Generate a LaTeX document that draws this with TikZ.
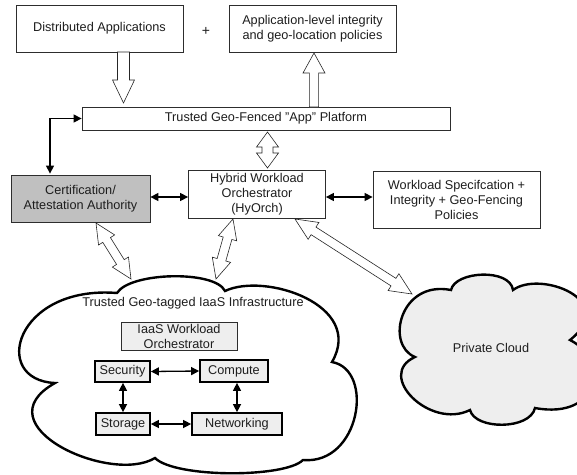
\documentclass[tikz,border=0pt]{standalone}
\usepackage{fontspec}
\setmainfont{Liberation Sans}
\usetikzlibrary{calc,arrows.meta}
\definecolor{certgray}{RGB}{192,192,192}
\definecolor{lightfill}{RGB}{238,238,238}
\definecolor{boxline}{RGB}{45,45,45}
\definecolor{txt}{RGB}{30,30,30}
% hollow single arrow from #1 to tip #2: shaft half width #3, head half width #4, head length #5
\newcommand{\hollowone}[5]{%
  \path ($(#2)!#5!(#1)$) coordinate (hh);
  \draw[harrow] ($(#1)!#3!90:(#2)$) -- ($(hh)!#3!90:(#2)$) -- ($(hh)!#4!90:(#2)$) -- (#2)
    -- ($(hh)!#4!-90:(#2)$) -- ($(hh)!#3!-90:(#2)$) -- ($(#1)!#3!-90:(#2)$) -- cycle;}
% hollow double arrow between #1 and #2
\newcommand{\hollowtwo}[5]{%
  \path ($(#1)!#5!(#2)$) coordinate (ha) ($(#2)!#5!(#1)$) coordinate (hb);
  \draw[harrow] (#1) -- ($(ha)!#4!90:(#2)$) -- ($(ha)!#3!90:(#2)$) -- ($(hb)!#3!90:(#2)$)
    -- ($(hb)!#4!90:(#2)$) -- (#2) -- ($(hb)!#4!-90:(#2)$) -- ($(hb)!#3!-90:(#2)$)
    -- ($(ha)!#3!-90:(#2)$) -- ($(ha)!#4!-90:(#2)$) -- cycle;}
\begin{document}
\begin{tikzpicture}[x=1pt,y=-1pt,
  txtfont/.style={font=\fontsize{12.7}{15}\selectfont, text=txt},
  box/.style={draw=boxline, line width=0.8pt, fill=white, align=center, inner sep=0pt, txtfont},
  inbox/.style={draw=black, line width=1.7pt, fill=lightfill, align=center, inner sep=0pt, txtfont},
  harrow/.style={draw=black!85, line width=0.6pt, fill=white, line join=miter},
  dbl/.style={line width=1.3pt, {Triangle[length=8pt,width=8pt]}-{Triangle[length=8pt,width=8pt]}},
  cloudline/.style={line width=2.4pt, draw=black, line join=miter}
]
\useasboundingbox (0,0) rectangle (577,474);

% ---- clouds ----
\draw[cloudline, fill=white]
  (55,383) .. controls (-10,380) and (15,285) .. (117,293)
  .. controls (130,272) and (215,270) .. (225,291)
  .. controls (265,272) and (365,305) .. (332,362)
  .. controls (375,370) and (360,465) .. (303,460)
  .. controls (285,478) and (175,478) .. (155,458)
  .. controls (110,485) and (-20,425) .. (55,383) -- cycle;
\begin{scope}
\clip (0,0) rectangle (577,474);
\draw[cloudline, fill=lightfill]
  (415,357) .. controls (385,345) and (400,280) .. (451,290)
  .. controls (455,271) and (510,268) .. (513,290)
  .. controls (540,270) and (620,300) .. (570,340)
  .. controls (610,360) and (600,420) .. (535,408)
  .. controls (530,430) and (475,430) .. (470,410)
  .. controls (430,430) and (375,375) .. (415,357) -- cycle;
\end{scope}

% ---- nodes ----
\node[box, minimum width=167, minimum height=47] (dist) at (99.5,28.5) {Distributed Applications};
\node[txtfont, font=\fontsize{14}{15}\selectfont] (plus) at (206,31) {+};
\node[box, minimum width=167, minimum height=47] (appl) at (312.5,28.5) {Application-level integrity\\and geo-location policies};
\node[box, minimum width=368, minimum height=23] (plat) at (266,118.5) {Trusted Geo-Fenced "App" Platform};
\node[box, fill=certgray, minimum width=139, minimum height=47] (cert) at (80.5,198.5) {Certification/\\Attestation Authority};
\node[box, minimum width=137, minimum height=48] (hyorch) at (257,194) {Hybrid Workload\\Orchestrator\\(HyOrch)};
\node[box, minimum width=167, minimum height=57] (wspec) at (456.5,199.5) {Workload Specifcation +\\Integrity + Geo-Fencing\\Policies};

\node[txtfont] (ctitle) at (193,303) {Trusted Geo-tagged IaaS Infrastructure};
\node[box, fill=lightfill, minimum width=116, minimum height=28] (iaas) at (179,336) {IaaS Workload\\Orchestrator};
\node[inbox, minimum width=55, minimum height=21] (sec) at (122.5,371.5) {Security};
\node[inbox, minimum width=68, minimum height=22] (comp) at (234,371) {Compute};
\node[inbox, minimum width=54, minimum height=22] (stor) at (123,424) {Storage};
\node[inbox, minimum width=90, minimum height=22] (net) at (237,424) {Networking};
\node[txtfont] (priv) at (491,348) {Private Cloud};

% ---- black connectors ----
\coordinate (kink) at (50,120);
\draw[dbl] (plat.west) -| ([yshift=1pt]kink |- cert.north);
\draw[dbl] (cert.east |- 0,197) -- (hyorch.west |- 0,197);
\draw[dbl] (hyorch.east |- 0,197) -- (wspec.west |- 0,197);
\draw[dbl] (sec.east) -- (comp.west);
\draw[dbl] (stor.north) -- (stor.north |- sec.south);
\draw[dbl] (net.north) -- (net.north |- comp.south);
\draw[dbl] (stor.east) -- (net.west);

% ---- hollow arrows ----
\coordinate (a1s) at (123.5,52);  \coordinate (a1t) at (123.5,103);
\hollowone{a1s}{a1t}{6pt}{11pt}{23pt}
\coordinate (a2s) at (314,107);  \coordinate (a2t) at (314,53);
\hollowone{a2s}{a2t}{4.6pt}{11pt}{20pt}
\coordinate (a3s) at (267.5,132);  \coordinate (a3t) at (267.5,168);
\hollowtwo{a3s}{a3t}{5.5pt}{11pt}{15pt}
\coordinate (a4s) at (96,223);  \coordinate (a4t) at (131,279);
\hollowtwo{a4s}{a4t}{4.5pt}{9.5pt}{20pt}
\coordinate (a5s) at (233,219);  \coordinate (a5t) at (216,279);
\hollowtwo{a5s}{a5t}{4.5pt}{9.5pt}{20pt}
\coordinate (a6s) at (295,219);  \coordinate (a6t) at (412,294);
\hollowtwo{a6s}{a6t}{4.5pt}{10pt}{22pt}
\end{tikzpicture}
\end{document}
